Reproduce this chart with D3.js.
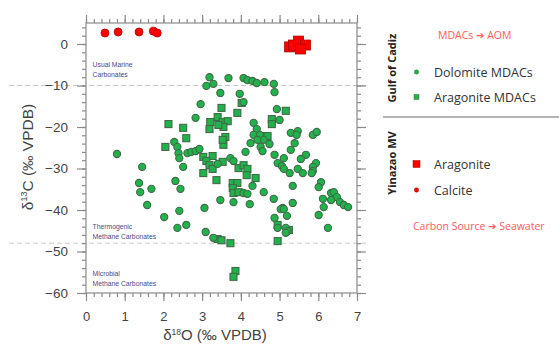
<!DOCTYPE html>
<html><head><meta charset="utf-8">
<script src="https://cdn.jsdelivr.net/npm/d3@7"></script>
<style>body{margin:0;background:#fff}svg{display:block}</style>
</head><body><svg id="c" width="559" height="345"></svg>
<script>
// δ18O, δ13C values
const dolomiteX = [3.19,3.11,3.29,3.68,4.07,4.17,4.30,4.41,4.61,4.85,4.87,3.47,3.97,4.07,2.96,2.83,4.93,5.00,4.33,4.41,4.33,5.29,5.47,5.44,5.86,5.96,0.80,2.28,2.36,2.39,2.41,2.62,2.72,2.83,2.93,1.45,1.37,1.40,1.69,2.31,2.44,1.58,2.41,2.02,2.36,2.59,2.51,3.40,3.73,3.81,4.12,4.30,4.59,3.47,3.81,4.23,3.06,3.09,3.29,4.49,4.59,4.43,4.25,4.51,4.74,4.56,5.39,5.29,4.87,5.11,4.95,5.06,5.11,5.68,5.55,5.94,5.86,5.86,5.83,5.26,5.47,5.60,6.07,6.01,5.34,4.85,5.34,6.12,6.33,6.40,6.48,6.33,6.56,6.66,6.77,5.08,6.14,5.03,5.11,5.19,4.87,4.95,5.16,5.21,5.16,6.01,6.25,4.07,4.17];
const dolomiteY = [-8.0,-10.1,-9.6,-8.2,-8.2,-8.7,-8.9,-9.4,-9.2,-9.6,-11.6,-11.8,-12.0,-14.0,-14.5,-17.8,-15.7,-18.3,-19.0,-20.5,-21.9,-21.4,-21.0,-21.9,-21.9,-21.2,-26.5,-23.6,-24.8,-26.3,-27.5,-26.3,-26.0,-25.8,-25.3,-29.6,-33.5,-35.7,-34.9,-33.0,-34.9,-38.8,-40.2,-41.7,-44.3,-43.6,-29.6,-28.9,-27.5,-28.2,-26.0,-34.2,-35.7,-37.6,-38.1,-38.6,-39.5,-45.3,-46.7,-21.9,-23.1,-23.1,-23.9,-24.8,-24.1,-25.8,-23.9,-25.5,-26.7,-27.5,-28.7,-29.4,-30.1,-26.7,-27.7,-28.7,-29.6,-30.6,-31.1,-31.1,-30.1,-31.1,-33.3,-34.5,-34.2,-37.3,-38.3,-37.3,-35.9,-35.7,-36.9,-37.6,-38.1,-38.8,-39.3,-39.5,-39.3,-39.8,-39.8,-41.4,-41.9,-44.3,-44.3,-45.1,-45.5,-41.2,-44.3,-35.9,-36.1];
const aragoniteX = [4.02,3.50,3.91,3.21,3.40,3.53,3.66,3.55,3.19,3.42,2.13,2.51,2.59,3.60,5.16,4.80,4.80,4.59,4.69,2.05,3.03,3.27,3.11,3.19,3.27,3.03,3.53,3.55,3.53,3.94,4.07,4.17,4.15,4.38,3.37,3.79,3.91,3.79,3.81,3.94,3.40,3.50,3.73,3.86,3.81,4.95,5.24,4.95];
const aragoniteY = [-14.2,-15.4,-16.6,-18.8,-17.6,-18.8,-18.6,-20.0,-20.5,-19.5,-19.3,-20.2,-22.7,-22.4,-16.1,-18.1,-19.3,-22.2,-22.2,-24.8,-27.2,-27.0,-28.2,-29.2,-30.1,-31.1,-28.4,-24.3,-23.1,-29.9,-29.2,-30.1,-31.6,-32.3,-32.8,-33.5,-33.5,-34.7,-35.9,-35.7,-47.0,-47.3,-48.0,-54.7,-56.1,-43.6,-44.8,-47.5];
const yArgX = [5.26,5.36,5.49,5.67,5.54];
const yArgY = [-0.7,-0.25,0.7,-0.25,-1.2];
const yCalX = [0.49,0.83,1.37,1.74,1.84];
const yCalY = [2.65,2.9,2.9,3.1,2.65];
const xTicks = [0,1,2,3,4,5,6,7];
const yTicks = [0,-10,-20,-30,-40,-50,-60];
const refLines = [-10,-48];
const zoneLabels = [["Usual Marine","Carbonates",-5.6],["Thermogenic","Methane Carbonates",-44.5],["Microbial","Methane Carbonates",-55.8]];

const svg = d3.select("#c");
const L=86,R=357,T=23,B=293;
const x = d3.scaleLinear().domain([0,7]).range([L,R]);
const y = d3.scaleLinear().domain([-60,0]).range([B,44]);
const yTop = y.invert(T);
const font = "'Liberation Sans', Arial, sans-serif";
const lfont = "'Open Sans', 'Noto Sans', sans-serif";
const axisCol = "#8a8a8a";

// reference dashed lines
svg.selectAll("line.ref").data(refLines).enter().append("line")
  .attr("x1",9).attr("x2",366).attr("y1",d=>y(d)).attr("y2",d=>y(d))
  .attr("stroke","#c8c8c8").attr("stroke-dasharray","5,3").attr("stroke-width",1);

// frame
svg.append("rect").attr("x",L).attr("y",T).attr("width",R-L).attr("height",B-T)
  .attr("fill","none").attr("stroke",axisCol).attr("stroke-width",1.2);

function styleAxis(g){g.select(".domain").remove();g.selectAll("line").attr("stroke",axisCol).attr("stroke-width",1.2);}
const xMinor = d3.range(0,7.001,0.2);
const yMinor = d3.range(-60,yTop,2);
const ySc2 = d3.scaleLinear().domain([-60,yTop]).range([B,T]);
// bottom
svg.append("g").attr("transform",`translate(0,${B})`).call(d3.axisBottom(x).tickValues(xMinor).tickSize(4).tickFormat("")).call(styleAxis);
svg.append("g").attr("transform",`translate(0,${B})`).call(d3.axisBottom(x).tickValues(xTicks).tickSize(8).tickPadding(11).tickFormat(d3.format("d"))).call(styleAxis)
  .call(g=>g.selectAll("text").attr("font-family",font).attr("font-size",13).attr("fill","#444"));
// top
svg.append("g").attr("transform",`translate(0,${T})`).call(d3.axisTop(x).tickValues(xMinor).tickSize(4).tickFormat("")).call(styleAxis);
svg.append("g").attr("transform",`translate(0,${T})`).call(d3.axisTop(x).tickValues(xTicks).tickSize(8).tickFormat("")).call(styleAxis);
// left
svg.append("g").attr("transform",`translate(${L},0)`).call(d3.axisLeft(ySc2).tickValues(yMinor).tickSize(4).tickFormat("")).call(styleAxis);
svg.append("g").attr("transform",`translate(${L},0)`).call(d3.axisLeft(ySc2).tickValues(yTicks).tickSize(9).tickPadding(9).tickFormat(d3.format("d"))).call(styleAxis)
  .call(g=>g.selectAll("text").attr("font-family",font).attr("font-size",13.5).attr("fill","#444"));
// right
svg.append("g").attr("transform",`translate(${R},0)`).call(d3.axisRight(ySc2).tickValues(yMinor).tickSize(4).tickFormat("")).call(styleAxis);
svg.append("g").attr("transform",`translate(${R},0)`).call(d3.axisRight(ySc2).tickValues(yTicks).tickSize(9).tickFormat("")).call(styleAxis);

// axis titles
const xt = svg.append("text").attr("x",215).attr("y",340).attr("text-anchor","middle")
  .attr("font-family",font).attr("font-size",15).attr("fill","#444");
xt.append("tspan").text("δ");
xt.append("tspan").text("18").attr("font-size",8.5).attr("dy",-5);
xt.append("tspan").text("O (‰ VPDB)").attr("dy",5);
const yt = svg.append("text").attr("transform","translate(33,157) rotate(-90)").attr("text-anchor","middle")
  .attr("font-family",font).attr("font-size",15.5).attr("fill","#444");
yt.append("tspan").text("δ");
yt.append("tspan").text("13").attr("font-size",9).attr("dy",-6);
yt.append("tspan").text("C (‰ VPDB)").attr("dy",6);

// zone labels
zoneLabels.forEach(z=>{
  const t = svg.append("text").attr("x",x(0.17)).attr("y",y(z[2])).attr("font-family",font).attr("font-size",6.8).attr("fill","#4a4a8a");
  t.append("tspan").text(z[0]);
  t.append("tspan").attr("x",x(0.17)).attr("dy",10).text(z[1]);
});

const gFill="#22b24c", gStroke="#3f6a47";
// squares (aragonite MDACs)
const aData = aragoniteX.map((v,i)=>[v,aragoniteY[i]]);
svg.append("g").selectAll("rect").data(aData).enter().append("rect")
  .attr("x",d=>x(d[0])-3.5).attr("y",d=>y(d[1])-3.5).attr("width",7).attr("height",7)
  .attr("fill",gFill).attr("stroke",gStroke).attr("stroke-width",1.1);
// circles (dolomite)
const dData = dolomiteX.map((v,i)=>[v,dolomiteY[i]]);
svg.append("g").selectAll("circle").data(dData).enter().append("circle")
  .attr("cx",d=>x(d[0])).attr("cy",d=>y(d[1])).attr("r",3.6)
  .attr("fill",gFill).attr("stroke",gStroke).attr("stroke-width",1.1);
// Yinazao
const rFill="#ff0000", rStroke="#b00000";
svg.append("g").selectAll("rect").data(yArgX.map((v,i)=>[v,yArgY[i]])).enter().append("rect")
  .attr("x",d=>x(d[0])-5).attr("y",d=>y(d[1])-5).attr("width",10).attr("height",10)
  .attr("fill",rFill).attr("stroke",rStroke).attr("stroke-width",0.8);
svg.append("g").selectAll("circle").data(yCalX.map((v,i)=>[v,yCalY[i]])).enter().append("circle")
  .attr("cx",d=>x(d[0])).attr("cy",d=>y(d[1])).attr("r",4)
  .attr("fill",rFill).attr("stroke",rStroke).attr("stroke-width",0.8);

// legend
const lg = svg.append("g");
lg.append("text").attr("transform","translate(396,68) rotate(-90)").attr("text-anchor","middle")
  .attr("font-family",lfont).attr("font-weight","bold").attr("font-size",11).attr("fill","#222").text("Gulf of Cadiz");
lg.append("text").attr("transform","translate(396,163) rotate(-90)").attr("text-anchor","middle")
  .attr("font-family",lfont).attr("font-weight","bold").attr("font-size",11).attr("fill","#222").text("Yinazao MV");
lg.append("line").attr("x1",383).attr("x2",559).attr("y1",117).attr("y2",117).attr("stroke","#999").attr("stroke-width",1.5);
function arrowText(xp,yp,a,b){
  const t = lg.append("text").attr("x",xp).attr("y",yp).attr("font-family",lfont).attr("font-size",10.5).attr("fill","#ff5a5a");
  t.append("tspan").text(a+" ");
  t.append("tspan").text("➔").attr("font-family","'DejaVu Sans', sans-serif").attr("font-size",10);
  t.append("tspan").text(" "+b);
}
arrowText(438,39,"MDACs","AOM");
arrowText(413,230,"Carbon Source","Seawater");
const items = [["Dolomite MDACs",72,"c",gFill],["Aragonite MDACs",97,"s",gFill],["Aragonite",164,"s",rFill],["Calcite",190,"c",rFill]];
items.forEach(it=>{
  if(it[2]==="c") lg.append("circle").attr("cx",416.5).attr("cy",it[1]).attr("r",2.2).attr("fill",it[3]).attr("stroke",it[3]===gFill?gStroke:rStroke).attr("stroke-width",0.5);
  else lg.append("rect").attr("x",it[3]===gFill?414:413).attr("y",it[1]-(it[3]===gFill?2.5:3.5)).attr("width",it[3]===gFill?5:7).attr("height",it[3]===gFill?5:7).attr("fill",it[3]).attr("stroke",it[3]===gFill?gStroke:rStroke).attr("stroke-width",0.5);
  lg.append("text").attr("x",434).attr("y",it[1]+4.5).attr("font-family",lfont).attr("font-size",12.5).attr("fill","#333").text(it[0]);
});
</script></body></html>
